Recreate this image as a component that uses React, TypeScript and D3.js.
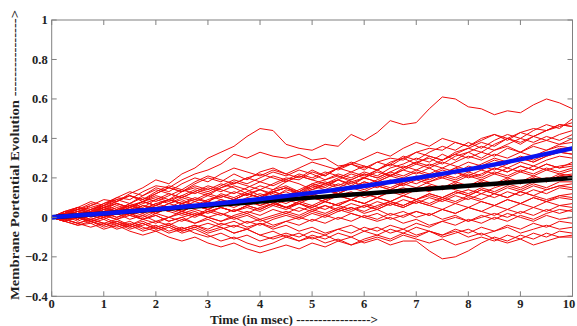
import * as d3 from 'd3';

const TRIALS: number[][] = [
  [0,.03,.02,.06,.09,.08,.12,.15,.19,.17,.22,.25,.3,.33,.36,.41,.45,.44,.37,.35,.34,.37,.36,.42,.39,.43,.49,.47,.48,.55,.61,.6,.56,.55,.52,.54,.53,.57,.6,.58,.55],
  [0,.02,.05,.04,.07,.1,.09,.13,.16,.15,.19,.22,.24,.27,.32,.3,.33,.31,.3,.32,.29,.3,.26,.27,.25,.28,.3,.29,.33,.35,.34,.38,.36,.4,.42,.39,.43,.45,.44,.47,.46],
  [0,.02,-.01,.02,.04,.03,.07,.05,.09,.12,.1,.13,.11,.15,.18,.16,.14,.17,.2,.19,.23,.21,.25,.28,.26,.24,.27,.31,.29,.33,.36,.34,.38,.35,.39,.42,.4,.44,.47,.45,.5],
  [0,-.02,.01,.03,.01,.04,.02,.06,.05,.03,.07,.09,.08,.12,.1,.13,.16,.14,.18,.21,.19,.17,.2,.23,.26,.24,.28,.3,.27,.31,.29,.33,.35,.38,.36,.4,.37,.41,.44,.46,.48],
  [0,.03,.05,.02,.06,.09,.11,.08,.12,.15,.13,.17,.2,.18,.22,.19,.23,.25,.22,.2,.24,.21,.25,.27,.24,.28,.26,.3,.33,.31,.29,.32,.35,.33,.37,.4,.38,.41,.39,.42,.44],
  [0,.01,-.02,.01,-.01,.02,.04,.02,.05,.03,.07,.05,.08,.11,.09,.12,.1,.14,.16,.13,.17,.19,.22,.2,.23,.21,.25,.27,.3,.28,.32,.29,.33,.36,.34,.37,.4,.38,.41,.39,.42],
  [0,.02,.04,.07,.05,.08,.11,.09,.13,.16,.14,.18,.21,.19,.17,.2,.22,.2,.18,.21,.19,.22,.25,.23,.21,.24,.27,.25,.28,.3,.27,.31,.33,.3,.34,.36,.33,.37,.39,.37,.4],
  [0,-.01,.01,-.02,0,.03,.01,.04,.02,.05,.03,.06,.08,.06,.09,.07,.1,.13,.11,.14,.17,.15,.19,.22,.2,.24,.21,.25,.28,.26,.29,.32,.3,.33,.31,.35,.33,.36,.34,.37,.38],
  [0,.02,.01,.04,.06,.04,.07,.1,.08,.11,.14,.12,.15,.13,.16,.14,.11,.13,.15,.12,.16,.18,.16,.19,.22,.2,.23,.26,.24,.27,.25,.28,.31,.29,.32,.3,.33,.31,.34,.36,.35],
  [0,.01,.03,0,.02,.05,.03,.06,.04,.07,.09,.06,.04,.07,.09,.12,.1,.13,.15,.12,.14,.17,.19,.16,.2,.18,.21,.24,.22,.25,.28,.26,.24,.27,.3,.28,.31,.29,.32,.35,.34],
  [0,-.02,0,.02,.05,.03,.06,.08,.11,.09,.13,.15,.13,.16,.19,.17,.2,.23,.21,.24,.22,.19,.21,.18,.2,.23,.21,.24,.27,.25,.22,.25,.28,.26,.29,.27,.3,.28,.31,.33,.32],
  [0,.03,.01,.04,.02,0,.03,.01,.04,.07,.05,.08,.06,.09,.07,.1,.12,.1,.14,.12,.15,.17,.15,.18,.16,.19,.22,.2,.23,.21,.24,.22,.26,.24,.27,.25,.28,.26,.29,.31,.3],
  [0,.02,.05,.03,.07,.09,.07,.11,.14,.12,.1,.13,.16,.14,.12,.15,.18,.16,.19,.17,.14,.16,.19,.17,.2,.18,.21,.19,.17,.2,.22,.2,.23,.21,.25,.23,.26,.24,.27,.25,.28],
  [0,-.01,-.03,-.01,.01,-.01,.02,0,.03,.05,.03,.06,.04,.07,.09,.07,.1,.08,.11,.13,.11,.14,.12,.15,.18,.16,.19,.17,.2,.22,.2,.23,.21,.24,.22,.25,.23,.26,.24,.26,.27],
  [0,.02,0,.03,.05,.07,.05,.08,.06,.09,.07,.05,.08,.06,.09,.12,.1,.13,.11,.09,.12,.14,.12,.15,.13,.16,.14,.17,.2,.18,.21,.19,.22,.2,.23,.21,.24,.22,.25,.23,.25],
  [0,.01,.04,.02,.05,.03,.06,.04,.02,.05,.08,.06,.09,.11,.09,.12,.1,.13,.15,.13,.16,.14,.17,.15,.18,.16,.14,.17,.15,.18,.2,.18,.21,.19,.22,.2,.23,.21,.24,.22,.24],
  [0,-.02,0,-.02,-.04,-.02,-.04,-.01,-.03,0,-.02,.01,.03,.01,.04,.02,.05,.07,.05,.08,.06,.09,.11,.09,.12,.1,.13,.15,.13,.16,.14,.17,.15,.18,.16,.19,.17,.2,.18,.21,.22],
  [0,.02,.04,.06,.04,.07,.05,.08,.1,.08,.11,.09,.12,.1,.13,.11,.14,.12,.1,.13,.11,.14,.12,.15,.17,.15,.18,.16,.19,.17,.15,.18,.16,.19,.17,.2,.18,.21,.19,.22,.21],
  [0,.01,-.01,.02,0,.02,-.01,.01,-.02,0,.02,0,.03,.05,.03,.06,.04,.07,.05,.08,.1,.08,.11,.09,.12,.1,.13,.11,.14,.16,.14,.17,.15,.18,.16,.19,.17,.2,.18,.21,.2],
  [0,.03,.05,.03,.06,.08,.11,.09,.12,.15,.13,.16,.14,.17,.15,.12,.14,.11,.13,.1,.12,.09,.11,.13,.1,.12,.14,.12,.15,.13,.16,.14,.12,.15,.13,.16,.14,.17,.15,.18,.18],
  [0,-.01,.01,-.01,.01,.03,.01,.04,.02,.05,.03,.01,.03,.05,.03,.06,.04,.07,.05,.03,.06,.04,.07,.09,.07,.1,.08,.11,.09,.12,.1,.13,.11,.14,.12,.15,.13,.16,.14,.16,.17],
  [0,.02,0,.03,.01,.04,.06,.04,.07,.09,.07,.1,.08,.06,.09,.07,.1,.08,.05,.07,.05,.08,.06,.09,.07,.1,.08,.11,.09,.12,.1,.13,.11,.14,.12,.1,.13,.11,.14,.16,.15],
  [0,-.02,-.04,-.02,-.05,-.03,-.06,-.04,-.02,-.04,-.01,-.03,0,-.02,.01,.03,.01,.04,.02,.05,.03,.06,.04,.07,.05,.08,.06,.09,.07,.1,.08,.11,.09,.12,.1,.13,.11,.14,.12,.15,.14],
  [0,.01,.03,.01,.04,.02,.05,.03,.06,.04,.02,.04,.02,.05,.03,.06,.08,.06,.09,.07,.1,.08,.06,.09,.07,.05,.08,.06,.09,.07,.1,.08,.11,.09,.12,.1,.13,.11,.09,.11,.12],
  [0,-.01,.01,.03,.01,-.01,.01,-.01,.02,0,.03,.01,.04,.02,0,.02,-.01,.01,.03,.01,.04,.02,.05,.03,.06,.04,.07,.05,.08,.06,.09,.07,.1,.08,.06,.09,.07,.1,.08,.11,.1],
  [0,.02,.04,.02,.05,.07,.05,.08,.06,.09,.07,.05,.07,.05,.03,.05,.03,.06,.04,.07,.05,.08,.06,.04,.06,.04,.07,.05,.08,.06,.04,.07,.05,.08,.06,.09,.07,.1,.08,.1,.09],
  [0,-.02,0,-.02,-.04,-.02,-.05,-.03,-.06,-.04,-.07,-.05,-.08,-.06,-.04,-.06,-.03,-.05,-.02,-.04,-.01,-.03,0,-.02,.01,-.01,.02,0,.03,.01,.04,.02,.05,.03,.06,.04,.07,.05,.08,.06,.07],
  [0,.01,-.01,.02,0,.02,.04,.02,.05,.03,.01,.03,0,.02,-.01,.01,-.02,0,.02,0,.03,.01,.04,.02,0,.02,-.01,.01,.03,.01,.04,.02,.05,.03,.01,.04,.02,.05,.03,.06,.05],
  [0,-.01,-.03,-.01,-.03,-.05,-.03,-.06,-.04,-.07,-.05,-.08,-.1,-.08,-.11,-.09,-.12,-.1,-.08,-.1,-.07,-.09,-.06,-.08,-.05,-.07,-.04,-.06,-.03,-.05,-.02,-.04,-.01,-.03,0,-.02,.01,-.01,.02,.04,.03],
  [0,.01,.03,.01,.03,0,.02,-.01,.01,-.02,0,.02,0,-.02,0,-.03,-.01,-.04,-.02,0,-.02,.01,-.01,.02,0,-.02,0,-.03,-.01,-.04,-.02,0,-.02,.01,-.01,.02,0,-.02,.01,-.01,0],
  [0,-.02,-.04,-.03,-.06,-.04,-.07,-.09,-.07,-.1,-.12,-.1,-.13,-.15,-.13,-.16,-.18,-.16,-.14,-.16,-.13,-.15,-.12,-.14,-.11,-.09,-.11,-.08,-.1,-.07,-.09,-.06,-.08,-.05,-.07,-.04,-.06,-.03,-.05,-.02,-.03],
  [0,-.01,.01,-.01,-.03,-.01,-.04,-.02,-.05,-.03,-.06,-.04,-.07,-.05,-.08,-.06,-.09,-.07,-.1,-.08,-.11,-.09,-.12,-.1,-.13,-.11,-.14,-.12,-.12,-.17,-.21,-.2,-.17,-.13,-.1,-.12,-.09,-.11,-.08,-.1,-.09],
  [0,.02,0,-.02,0,-.03,-.05,-.03,-.06,-.04,-.07,-.05,-.03,-.05,-.08,-.06,-.09,-.11,-.09,-.12,-.1,-.13,-.11,-.14,-.12,-.1,-.12,-.09,-.11,-.13,-.11,-.14,-.12,-.1,-.12,-.09,-.11,-.08,-.1,-.07,-.08],
  [0,-.02,0,-.03,-.01,-.04,-.02,-.05,-.07,-.05,-.08,-.06,-.09,-.12,-.1,-.13,-.15,-.13,-.1,-.12,-.09,-.11,-.08,-.1,-.07,-.09,-.06,-.08,-.05,-.07,-.09,-.07,-.1,-.08,-.11,-.13,-.11,-.14,-.12,-.1,-.1],
  [0,.02,.05,.08,.06,.1,.13,.11,.15,.13,.17,.2,.18,.22,.25,.23,.21,.24,.22,.25,.28,.26,.24,.27,.3,.33,.31,.35,.38,.36,.4,.38,.36,.39,.42,.4,.43,.41,.44,.47,.46],
  [0,.01,-.01,.02,.04,.02,.05,.08,.06,.09,.11,.14,.12,.15,.17,.2,.18,.21,.19,.22,.2,.23,.21,.19,.22,.2,.23,.21,.24,.22,.25,.23,.2,.22,.25,.23,.26,.24,.27,.25,.26],
  [0,-.01,-.03,-.05,-.03,-.06,-.04,-.07,-.05,-.08,-.06,-.04,-.06,-.03,-.05,-.02,-.04,-.01,.01,-.01,.02,0,.03,.05,.03,.06,.08,.06,.09,.11,.09,.12,.14,.12,.15,.17,.15,.18,.2,.19,.2],
  [0,.02,.04,.02,.05,.03,.06,.04,.07,.05,.03,.06,.04,.07,.05,.08,.06,.09,.07,.1,.12,.1,.13,.16,.14,.17,.15,.18,.21,.19,.22,.25,.23,.26,.24,.27,.3,.28,.31,.33,.32],
  [0,.01,.03,.05,.03,.06,.04,.07,.09,.07,.1,.08,.11,.09,.07,.09,.06,.08,.05,.07,.04,.06,.03,.05,.02,.04,.01,.03,0,.02,-.01,.01,-.02,0,.02,0,.03,.01,.04,.02,.04],
  [0,-.01,0,.02,0,.03,.01,-.01,.01,-.02,0,-.03,-.01,-.04,-.02,-.05,-.03,-.06,-.04,-.07,-.05,-.08,-.06,-.04,-.07,-.05,-.08,-.06,-.09,-.07,-.1,-.08,-.06,-.09,-.07,-.05,-.08,-.06,-.04,-.06,-.05],
];

// smooth curves, sampled every 1 msec
const CURVE_T = [0, 1, 2, 3, 4, 5, 6, 7, 8, 9, 10];
const BLUE_V = [0, 0.019, 0.041, 0.065, 0.093, 0.124, 0.159, 0.199, 0.243, 0.294, 0.35];
const BLACK_V = [0, 0.02, 0.04, 0.06, 0.08, 0.1, 0.12, 0.14, 0.16, 0.18, 0.2];

const X_TICKS = [0, 1, 2, 3, 4, 5, 6, 7, 8, 9, 10];
const Y_TICKS = [-0.4, -0.2, 0, 0.2, 0.4, 0.6, 0.8, 1];

const W = 577;
const H = 326;
const FONT = "'Liberation Serif', 'Times New Roman', serif";

export default function App() {
  const x = d3.scaleLinear().domain([0, 10]).range([51.7, 572.5]);
  const y = d3.scaleLinear().domain([-0.4, 1]).range([296.3, 20]);
  const [x0, x1] = x.range();
  const [y0, y1] = y.range();

  const trialLine = (vals: number[]) => {
    const step = 10 / (vals.length - 1);
    return d3
      .line<number>()
      .x((_, i) => x(i * step))
      .y((v) => y(v))(vals) ?? '';
  };

  const smooth = d3
    .line<number>()
    .x((_, i) => x(CURVE_T[i]))
    .y((v) => y(v))
    .curve(d3.curveMonotoneX);

  const fmtY = (v: number) => {
    const s = String(Math.round(v * 10) / 10);
    return s.startsWith('-') ? '\u2212' + s.slice(1) : s;
  };

  return (
    <svg
      width={W}
      height={H}
      style={{ position: 'absolute', left: 0, top: 0, background: '#fff' }}
    >
      <defs>
        <clipPath id='plot'>
          <rect x={x0} y={y1} width={x1 - x0} height={y0 - y1} />
        </clipPath>
      </defs>

      <g clipPath='url(#plot)'>
        {TRIALS.map((vals, i) => (
          <path
            key={i}
            d={trialLine(vals)}
            fill='none'
            stroke='#f00a0a'
            strokeWidth={1}
            strokeLinejoin='round'
          />
        ))}
        <path d={smooth(BLACK_V) ?? ''} fill='none' stroke='#000' strokeWidth={4.5} />
        <path d={smooth(BLUE_V) ?? ''} fill='none' stroke='#0a14f0' strokeWidth={4.5} />
      </g>

      {/* frame */}
      <rect x={x0} y={y1} width={x1 - x0} height={y0 - y1} fill='none' stroke='#808080' strokeWidth={1} />

      <g fontWeight={700} fill='#222' fontFamily={FONT}>
        {X_TICKS.map((t) => (
          <g key={'x' + t}>
            <line x1={x(t)} x2={x(t)} y1={y0} y2={y0 - 5} stroke='#808080' />
            <line x1={x(t)} x2={x(t)} y1={y1} y2={y1 + 5} stroke='#808080' />
            <text x={Math.min(x(t), 569)} y={y0 + 11.5} textAnchor='middle' fontSize={12.5}>
              {t}
            </text>
          </g>
        ))}

        {Y_TICKS.map((t) => (
          <g key={'y' + t}>
            <line x1={x0} x2={x0 + 5} y1={y(t)} y2={y(t)} stroke='#808080' />
            <line x1={x1} x2={x1 - 5} y1={y(t)} y2={y(t)} stroke='#808080' />
            <text x={x0 - 4} y={y(t)} dy='0.35em' textAnchor='end' fontSize={12.5}>
              {fmtY(t)}
            </text>
          </g>
        ))}

        <text x={210} y={324} fontSize={12.5} textLength={168} lengthAdjust='spacingAndGlyphs'>
          Time (in msec) -----------------{'>'}
        </text>
        <text
          transform='translate(19,300) rotate(-90)'
          fontSize={13}
          textLength={290}
          lengthAdjust='spacingAndGlyphs'
        >
          Membrane Portential Evolution ----------------{'>'}
        </text>
      </g>
    </svg>
  );
}
